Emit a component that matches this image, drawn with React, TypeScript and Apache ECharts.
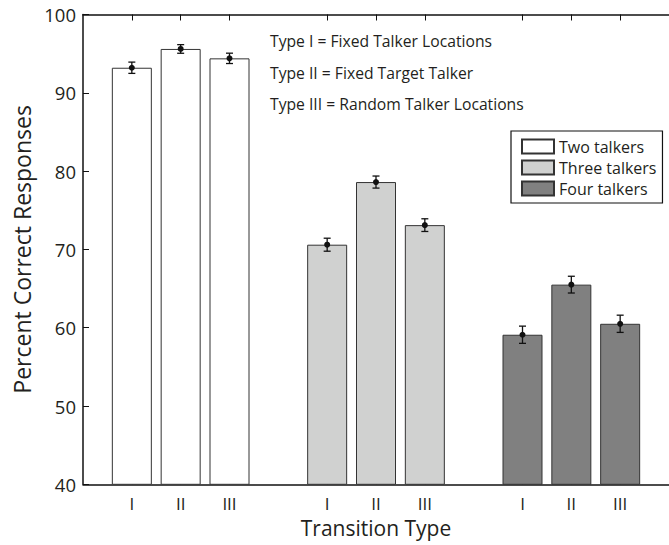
import React, { useEffect, useRef } from "react";
import * as echarts from "echarts";

const tickLabels = ["I", "II", "III", "I", "II", "III", "I", "II", "III"];
const positions = [1, 2, 3, 5, 6, 7, 9, 10, 11];
const seriesNames = ["Two talkers", "Three talkers", "Four talkers"];
const twoTalkers = [93.2, 95.6, 94.4];
const threeTalkers = [70.6, 78.6, 73.1];
const fourTalkers = [59.1, 65.5, 60.5];
const twoErr = [0.72, 0.55, 0.66];
const threeErr = [0.83, 0.77, 0.81];
const fourErr = [1.1, 1.07, 1.1];
const notes = [
  "Type I = Fixed Talker Locations",
  "Type II = Fixed Target Talker",
  "Type III = Random Talker Locations",
];

const FONT = "Open Sans";
const TXT = "#231f20";

export default function App() {
  const ref = useRef<HTMLDivElement>(null);
  useEffect(() => {
    if (!ref.current) return;
    const chart = echarts.init(ref.current, undefined, { renderer: "svg" });
    const groups = [twoTalkers, threeTalkers, fourTalkers];
    const errs = [twoErr, threeErr, fourErr];
    const fills = ["#ffffff", "#d0d1d0", "#808080"];
    const labelMap: Record<number, string> = {};
    positions.forEach((p, i) => (labelMap[p] = tickLabels[i]));

    const barSeries = groups.map((vals, g) => ({
      type: "bar",
      name: seriesNames[g],
      barWidth: 40,
      barGap: "-100%",
      itemStyle: { color: fills[g], borderColor: "#333", borderWidth: 1 },
      data: vals.map((v, i) => [positions[g * 3 + i], v]),
      z: 2,
    }));

    const errData: number[][] = [];
    groups.forEach((vals, g) =>
      vals.forEach((v, i) => errData.push([positions[g * 3 + i], v, errs[g][i]]))
    );

    const errSeries = {
      type: "custom",
      z: 5,
      data: errData,
      renderItem: (params: any, api: any) => {
        const x = api.value(0);
        const y = api.value(1);
        const e = api.value(2);
        const c = api.coord([x, y]);
        const top = api.coord([x, y + e]);
        const bot = api.coord([x, y - e]);
        const cap = 3.5;
        const st = { stroke: "#111", lineWidth: 1.3 };
        return {
          type: "group",
          children: [
            { type: "line", shape: { x1: c[0], y1: top[1], x2: c[0], y2: bot[1] }, style: st },
            { type: "line", shape: { x1: c[0] - cap, y1: top[1], x2: c[0] + cap, y2: top[1] }, style: st },
            { type: "line", shape: { x1: c[0] - cap, y1: bot[1], x2: c[0] + cap, y2: bot[1] }, style: st },
            { type: "circle", shape: { cx: c[0], cy: c[1], r: 3 }, style: { fill: "#111" } },
          ],
        };
      },
    };

    chart.setOption({
      animation: false,
      grid: { left: 83, top: 14.5, right: -8, bottom: 60.7 },
      legend: {
        data: seriesNames,
        orient: "vertical",
        left: 511,
        top: 131,
        padding: [6, 6, 5, 10],
        itemWidth: 32,
        itemHeight: 14,
        itemGap: 2,
        icon: "rect",
        borderColor: "#111",
        borderWidth: 1.2,
        backgroundColor: "#fff",
        textStyle: { fontFamily: FONT, fontSize: 16, color: TXT, lineHeight: 19 },
      },
      xAxis: [
        {
          type: "value",
          min: 0,
          max: 12,
          interval: 1,
          name: "Transition Type",
          nameLocation: "middle",
          nameGap: 31,
          nameTextStyle: { fontFamily: FONT, fontSize: 21, color: TXT },
          axisLine: { show: true, onZero: false, lineStyle: { color: "#111", width: 1.5 } },
          axisTick: { show: true, inside: true, length: 6, customValues: positions, lineStyle: { color: "#111" } },
          axisLabel: {
            customValues: positions,
            formatter: (v: number) => labelMap[v] || "",
            fontFamily: FONT,
            fontSize: 17,
            color: TXT,
            margin: 11,
          },
          splitLine: { show: false },
        },
        {
          type: "value",
          position: "top",
          min: 0,
          max: 12,
          interval: 1,
          axisLine: { show: true, onZero: false, lineStyle: { color: "#111", width: 1.5 } },
          axisTick: { show: true, inside: true, length: 6, customValues: positions, lineStyle: { color: "#111" } },
          axisLabel: { show: false },
          splitLine: { show: false },
        },
      ],
      yAxis: {
        type: "value",
        min: 40,
        max: 100,
        interval: 10,
        name: "Percent Correct Responses",
        nameLocation: "middle",
        nameRotate: 90,
        nameGap: 49,
        nameTextStyle: { fontFamily: FONT, fontSize: 23, color: TXT },
        axisLine: { show: true, lineStyle: { color: "#111", width: 1.5 } },
        axisTick: { show: true, inside: true, length: 6, lineStyle: { color: "#111" } },
        axisLabel: { fontFamily: FONT, fontSize: 18.5, color: TXT, margin: 7 },
        splitLine: { show: false },
      },
      graphic: notes.map((t, i) => ({
        type: "text",
        left: 270,
        top: 33 + i * 31.5,
        style: { text: t, fontFamily: FONT, fontSize: 15.7, fill: TXT },
      })),
      series: [...barSeries, errSeries],
    });
    return () => chart.dispose();
  }, []);
  return (
    <div
      ref={ref}
      style={{ position: "absolute", left: 0, top: 0, width: 669, height: 545, background: "#fff" }}
    />
  );
}
